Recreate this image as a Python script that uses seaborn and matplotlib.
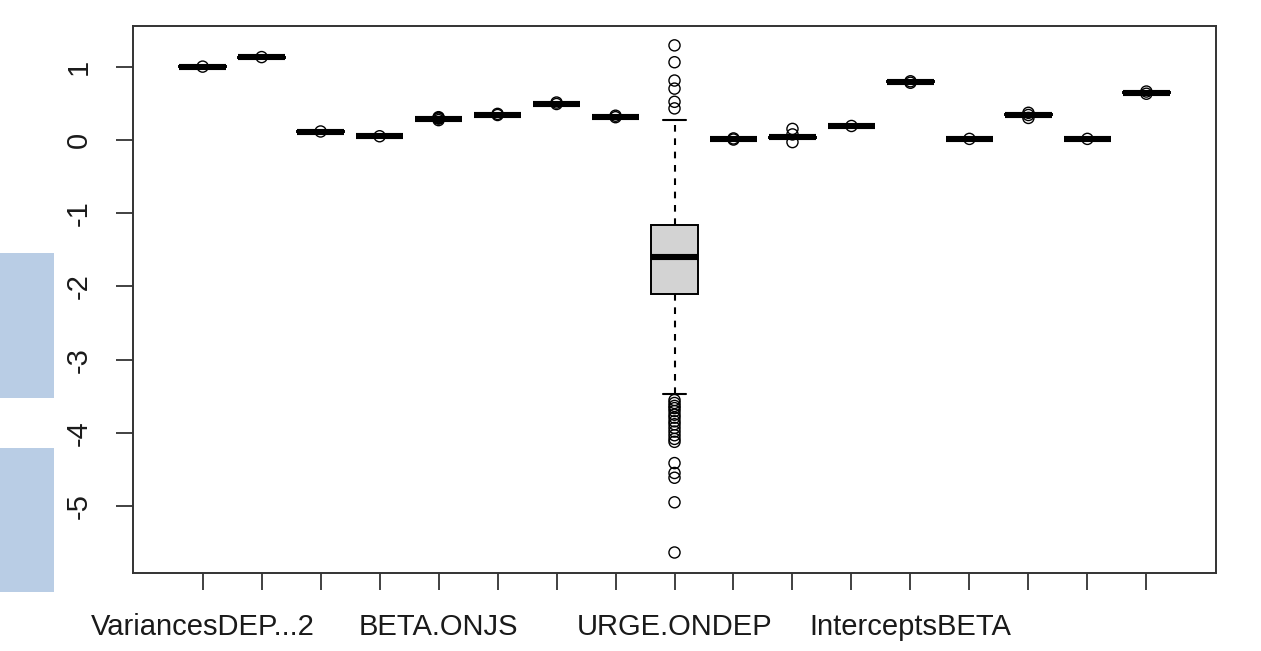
import numpy as np
import pandas as pd
import matplotlib
matplotlib.use("Agg")
import matplotlib.pyplot as plt
import seaborn as sns
from matplotlib.patches import Rectangle

# ---------------- data ----------------
var_ids = [f"v{i:02d}" for i in range(1, 18)]
tick_labels = ["VariancesDEP...2", "", "", "", "BETA.ONJS", "", "", "",
               "URGE.ONDEP", "", "", "", "InterceptsBETA", "", "", "", ""]

whisk_lo = [0.990, 1.118, 0.103, 0.045, 0.272, 0.331, 0.481, 0.300, -3.468,
            0.004, 0.022, 0.177, 0.785, 0.004, 0.327, 0.004, 0.635]
q1       = [0.996, 1.124, 0.109, 0.051, 0.280, 0.337, 0.487, 0.306, -2.104,
            0.010, 0.030, 0.183, 0.791, 0.010, 0.335, 0.010, 0.641]
medians  = [1.000, 1.128, 0.113, 0.055, 0.286, 0.341, 0.491, 0.310, -1.600,
            0.014, 0.037, 0.187, 0.795, 0.014, 0.341, 0.014, 0.645]
q3       = [1.004, 1.132, 0.117, 0.059, 0.292, 0.345, 0.495, 0.314, -1.160,
            0.018, 0.044, 0.191, 0.799, 0.018, 0.347, 0.018, 0.649]
whisk_hi = [1.010, 1.138, 0.123, 0.065, 0.300, 0.351, 0.501, 0.320, 0.273,
            0.024, 0.052, 0.197, 0.805, 0.024, 0.355, 0.024, 0.655]

outliers = {
    "v01": [1.00],
    "v02": [1.13],
    "v03": [0.115],
    "v04": [0.05],
    "v05": [0.27, 0.29, 0.30, 0.31],
    "v06": [0.355, 0.34],
    "v07": [0.51, 0.49],
    "v08": [0.33, 0.31],
    "v09": [1.29, 1.06, 0.81, 0.70, 0.52, 0.43,
            -3.55, -3.59, -3.63, -3.66, -3.70, -3.75, -3.79, -3.84, -3.88,
            -3.93, -3.98, -4.03, -4.08, -4.12,
            -4.41, -4.545, -4.61, -4.945, -5.63],
    "v10": [0.02, 0.005],
    "v11": [0.15, 0.075, -0.03],
    "v12": [0.19],
    "v13": [0.80, 0.78],
    "v14": [0.014],
    "v15": [0.37, 0.34, 0.30],
    "v16": [0.014],
    "v17": [0.66, 0.63],
}

y_ticks = [-5, -4, -3, -2, -1, 0, 1]

# ---------------- tables for seaborn ----------------
rows = []
for i, v in enumerate(var_ids):
    for val in (whisk_lo[i], q1[i], medians[i], q3[i], whisk_hi[i]):
        rows.append({"var": v, "value": val})
box_df = pd.DataFrame(rows)

out_rows = []
for i, v in enumerate(var_ids):
    for val in outliers[v]:
        out_rows.append({"pos": i, "value": val})
out_df = pd.DataFrame(out_rows)

# ---------------- style ----------------
sns.set_style("white")
plt.rcParams["font.family"] = ["Liberation Sans", "DejaVu Sans"]
plt.rcParams["axes.unicode_minus"] = False

fig = plt.figure(figsize=(12.61, 6.51), dpi=100)
ax = fig.add_axes([0.1055, 0.1198, 0.9643 - 0.1055, 0.9607 - 0.1198])

sns.boxplot(data=box_df, x="var", y="value", order=var_ids, ax=ax,
            whis=(0, 100), showfliers=False, width=0.8,
            color="#d3d3d3", saturation=1, linecolor="black", linewidth=1.4,
            medianprops={"linewidth": 4.4, "color": "black"},
            whiskerprops={"linestyle": (0, (3.2, 3.2)), "linewidth": 1.5},
            capprops={"linewidth": 1.5})

sns.scatterplot(data=out_df, x="pos", y="value", ax=ax, marker="o", s=64,
                color="white", edgecolor="black", linewidth=1.0, legend=False,
                zorder=5)
ax.collections[-1].set_facecolor("none")

ax.set_xlim(-1.18, 17.18)
ax.set_ylim(-5.91, 1.56)
ax.set_xticks(range(len(var_ids)))
ax.set_xticklabels(tick_labels)
ax.set_yticks(y_ticks)
ax.set_yticklabels([str(t) for t in y_ticks], rotation=90, va="center")
ax.set_xlabel("")
ax.set_ylabel("")

for s in ax.spines.values():
    s.set_visible(True)
    s.set_color("#333333")
    s.set_linewidth(1.4)

ax.tick_params(axis="both", which="major", length=12, width=1.3,
               color="#333333", labelsize=21, labelcolor="#1a1a1a",
               direction="out")
ax.tick_params(axis="x", pad=17)
ax.tick_params(axis="y", pad=17)
ax.xaxis.set_ticks_position("bottom")
ax.yaxis.set_ticks_position("left")

# light blue blocks at the left edge of the screenshot
for y0, y1 in [(0.3886, 0.6114), (0.0906, 0.3118)]:
    fig.add_artist(Rectangle((0, y0), 0.0428, y1 - y0, transform=fig.transFigure,
                             facecolor="#b9cde5", edgecolor="none", zorder=0))

fig.savefig("out.png", dpi=100)
